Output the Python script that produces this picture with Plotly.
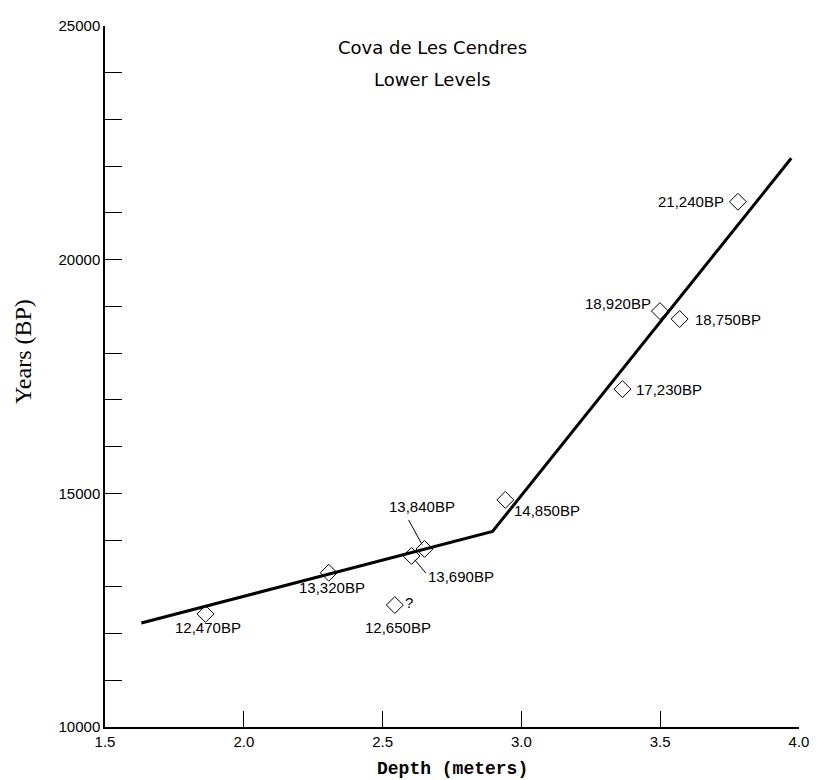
import plotly.graph_objects as go

# ---- data ----
depth_m = [1.862, 2.306, 2.604, 2.651, 2.544, 2.942, 3.364, 3.499, 3.570, 3.780]
years_bp = [12420, 13300, 13660, 13810, 12610, 14860, 17230, 18900, 18730, 21240]
date_labels = ["12,470BP", "13,320BP", "13,690BP", "13,840BP", "12,650BP",
               "14,850BP", "17,230BP", "18,920BP", "18,750BP", "21,240BP"]

trend_depth = [1.631, 2.896, 3.972]
trend_years = [12226, 14184, 22169]

x_ticks = [1.5, 2.0, 2.5, 3.0, 3.5, 4.0]
y_ticks = list(range(10000, 25001, 1000))
y_tick_text = [str(v) if v % 5000 == 0 else "" for v in y_ticks]

# label offsets in pixels (dx, dy) relative to each marker (style only)
label_offsets = [(3, 14), (3, 15), (50, 21), (-3, -42), (3, 22),
                 (42, 11), (47, 0), (-42, -8), (48, 0), (-47, 0)]

FONT = "Liberation Sans, Arial, sans-serif"

fig = go.Figure()
fig.add_trace(go.Scatter(x=trend_depth, y=trend_years, mode="lines",
                         line=dict(color="black", width=3), showlegend=False,
                         hoverinfo="skip"))
fig.add_trace(go.Scatter(x=depth_m, y=years_bp, mode="markers",
                         marker=dict(symbol="diamond-open", size=13,
                                     color="black", line=dict(width=1)),
                         showlegend=False))

annotations = []
for x, y, t, (dx, dy) in zip(depth_m, years_bp, date_labels, label_offsets):
    annotations.append(dict(x=x, y=y, xref="x", yref="y", text=t,
                            showarrow=False, xshift=dx, yshift=-dy,
                            xanchor="center", yanchor="middle",
                            font=dict(family=FONT, size=15, color="black")))

# question mark next to the 12,650BP point
annotations.append(dict(x=depth_m[4], y=years_bp[4], xref="x", yref="y",
                        text="?", showarrow=False, xshift=14, yshift=3,
                        xanchor="center", yanchor="middle",
                        font=dict(family=FONT, size=15, color="black")))

# leader lines for 13,840BP and 13,690BP
annotations.append(dict(x=depth_m[3], y=years_bp[3], xref="x", yref="y",
                        text=" ", showarrow=True, arrowhead=0, arrowwidth=1,
                        arrowcolor="black", ax=-17, ay=-31, standoff=5,
                        font=dict(size=1)))
annotations.append(dict(x=depth_m[2], y=years_bp[2], xref="x", yref="y",
                        text=" ", showarrow=True, arrowhead=0, arrowwidth=1,
                        arrowcolor="black", ax=16, ay=19, standoff=5,
                        font=dict(size=1)))

# chart title (inside plot)
annotations.append(dict(x=0.4716, y=0.970, xref="paper", yref="paper",
                        text="Cova de Les Cendres", showarrow=False,
                        xanchor="center", yanchor="middle",
                        font=dict(family="DejaVu Sans, sans-serif", size=18,
                                  color="black")))
annotations.append(dict(x=0.4716, y=0.923, xref="paper", yref="paper",
                        text="Lower Levels", showarrow=False,
                        xanchor="center", yanchor="middle",
                        font=dict(family="DejaVu Sans, sans-serif", size=18,
                                  color="black")))

# axis titles
annotations.append(dict(x=-0.118, y=0.535, xref="paper", yref="paper",
                        text="Years (BP)", showarrow=False, textangle=-90,
                        xanchor="center", yanchor="middle",
                        font=dict(family="Liberation Serif, Times New Roman, serif",
                                  size=24, color="black")))
annotations.append(dict(x=0.5, y=-0.06, xref="paper", yref="paper",
                        text="<b>Depth (meters)</b>", showarrow=False,
                        xanchor="center", yanchor="middle",
                        font=dict(family="Liberation Mono, Courier New, monospace",
                                  size=18, color="black")))

fig.update_layout(
    width=821, height=780,
    margin=dict(l=105, r=12, t=26, b=53),
    paper_bgcolor="white", plot_bgcolor="white",
    annotations=annotations,
    xaxis=dict(range=[1.5, 4.0], tickvals=x_ticks, tickformat=".1f",
               ticks="inside", ticklen=16, tickwidth=1, tickcolor="black",
               showline=True, linecolor="black", linewidth=1.5,
               showgrid=False, zeroline=False,
               tickfont=dict(family=FONT, size=15, color="black")),
    yaxis=dict(range=[10000, 25000], tickvals=y_ticks, ticktext=y_tick_text,
               ticks="inside", ticklen=17, tickwidth=1, tickcolor="black",
               showline=True, linecolor="black", linewidth=1.5,
               showgrid=False, zeroline=False,
               tickfont=dict(family=FONT, size=15, color="black")),
)

fig.write_html("out.html",
               config={"displayModeBar": False, "responsive": False},
               post_script="document.body.style.margin='0';"
                           "document.body.style.overflow='hidden';"
                           "var gd=document.getElementById('{plot_id}');"
                           "gd.style.width='821px';gd.style.height='780px';"
                           "Plotly.relayout(gd,{width:821,height:780});")
